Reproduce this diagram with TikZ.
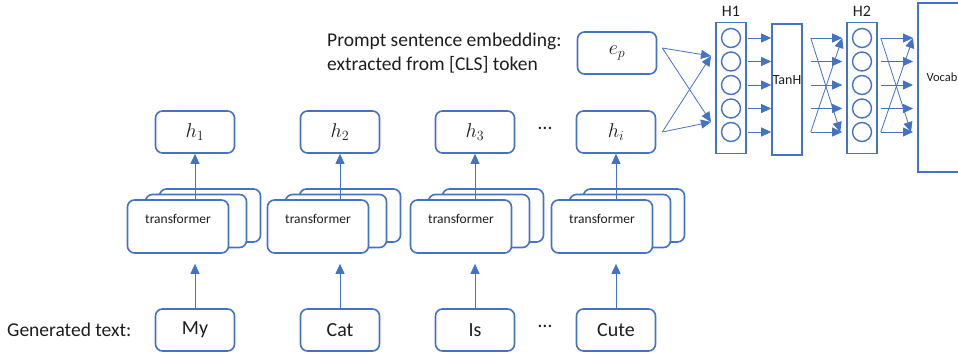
\documentclass[tikz,border=0pt]{standalone}
\usepackage{fix-cm}
\usepackage{fontspec}
\setmainfont{Carlito}
\usepackage{amsmath}
\usetikzlibrary{arrows.meta, positioning, calc}
\definecolor{netblue}{RGB}{68, 114, 196}
\definecolor{txtdark}{RGB}{30, 30, 30}

\begin{document}
\begin{tikzpicture}[x=1pt, y=-1pt,
  wordbox/.style={draw=netblue, line width=1.6pt, rounded corners=7pt, fill=white, minimum width=79pt, minimum height=42pt, inner sep=0pt, font=\fontsize{20}{24}\selectfont, text=txtdark},
  tfbox/.style={draw=netblue, line width=1.6pt, rounded corners=7pt, fill=white, minimum width=101pt, minimum height=53pt, inner sep=0pt},
  layerbox/.style={draw=netblue, line width=1.6pt, fill=white, minimum width=30pt, minimum height=131pt, inner sep=0pt},
  neuron/.style={draw=netblue, line width=1.4pt, circle, minimum size=19pt, inner sep=0pt},
  arr/.style={netblue, line width=0.8pt, -{Triangle[length=10pt, width=9pt]}},
  lbl/.style={text=txtdark, inner sep=0pt}
]
  \useasboundingbox (0,0) rectangle (958,356);
  \clip (0,0) rectangle (958,356);

  % Token columns: input word, transformer stack, hidden state
  \foreach \n/\cx/\fx/\word/\hid in {1/195/178/My/1, 2/340/318/Cat/2, 3/475/461/Is/3, 4/616/602/Cute/i} {
    \node[tfbox] (tfc\n) at (\fx+32, 215.5) {};
    \node[tfbox] (tfb\n) at (\fx+18, 221) {};
    \node[tfbox] (tf\n) at (\fx, 226.5) {};
    \node[lbl, font=\fontsize{13.5}{16}\selectfont] (tft\n) at (\fx, 219) {transformer};
    \node[wordbox] (h\n) at (\cx, 132) {$h_{\hid}$};
    \node[wordbox] (w\n) at (\cx, 330) {\word};
    \draw[arr, shorten >=10pt] (w\n.north) -- (w\n.north |- tf\n.south);
    \draw[arr] (h\n.south |- tf\n.north) -- (h\n.south);
  }

  \node[lbl, font=\fontsize{20}{24}\selectfont] (dotsh) at (545, 128) {\dots};
  \node[lbl, font=\fontsize{20}{24}\selectfont] (dotsw) at (545, 326) {\dots};
  \node[lbl, font=\fontsize{19.5}{24}\selectfont, anchor=west] (gen) at (7, 330) {Generated text:};

  % Prompt embedding
  \node[lbl, font=\fontsize{19.5}{23.5}\selectfont, align=left, anchor=west] (prompt) at (327, 53) {Prompt sentence embedding:\\extracted from [CLS] token};
  \node[wordbox] (ep) at (617, 53) {$e_p$};

  % Hidden layers
  \node[layerbox] (H1) at (731, 88) {};
  \node[lbl, font=\fontsize{16}{19}\selectfont] (H1lbl) at (731, 11) {H1};
  \node[layerbox] (tanh) at (787, 89.5) {};
  \node[lbl, font=\fontsize{14}{17}\selectfont] (tanhlbl) at (787, 80) {TanH};
  \node[layerbox] (H2) at (862, 88) {};
  \node[lbl, font=\fontsize{16}{19}\selectfont] (H2lbl) at (862, 11) {H2};
  \foreach \i in {1,...,5} {
    \node[neuron] (na\i) at (731, {38+23.5*(\i-1)}) {};
    \node[neuron] (nb\i) at (862, {38+23.5*(\i-1)}) {};
  }
  \node[draw=netblue, line width=1.6pt, minimum width=70pt, minimum height=169pt, anchor=north west] (vocab) at (917, 2) {};
  \node[lbl, font=\fontsize{12.5}{15}\selectfont] (vocablbl) at (942, 77) {Vocab};

  % Connections into H1
  \coordinate (epo) at ($(ep.east)+(5,-5)$);
  \coordinate (hio) at ($(h4.east)+(6,0)$);
  \coordinate (hin1) at (711, 56);
  \coordinate (hin2) at (711, 122);
  \foreach \s in {epo, hio}
    \foreach \t in {hin1, hin2}
      \draw[arr] (\s) -- (\t);

  % H1 -> TanH
  \foreach \i in {1,...,5}
    \draw[arr] ($(na\i.east)+(7,0)$) -- (na\i -| tanh.west);

  % TanH -> H2
  \foreach \i in {1,...,5}
    \draw[arr] ($(tanh.east |- nb\i)+(8,0)$) -- ($(H2.west |- nb\i)+(-4,0)$);
  \draw[arr] ($(tanh.east |- nb1)+(8,0)$) -- ($(H2.west |- nb5)+(-6,0)$);
  \draw[arr] ($(tanh.east |- nb5)+(8,0)$) -- ($(H2.west |- nb1)+(-4,0)$);

  % H2 -> Vocab
  \foreach \i in {1,...,5}
    \draw[arr] ($(H2.east |- nb\i)+(3,0)$) -- ($(vocab.west |- nb\i)+(-4,0)$);
  \draw[arr] ($(H2.east |- nb1)+(3,0)$) -- ($(vocab.west |- nb5)+(-6,0)$);
  \draw[arr] ($(H2.east |- nb5)+(3,0)$) -- ($(vocab.west |- nb1)+(-4,0)$);
\end{tikzpicture}
\end{document}
